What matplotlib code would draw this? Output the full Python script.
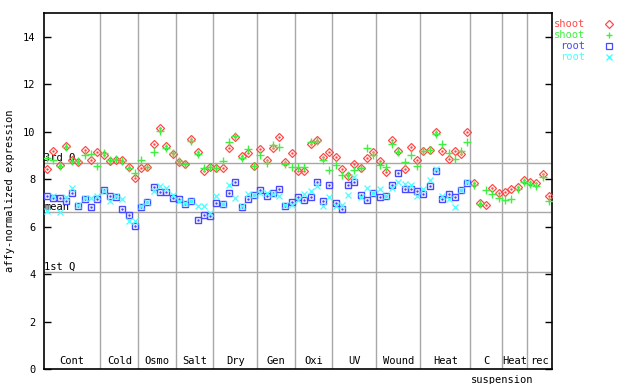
import numpy as np
import matplotlib
matplotlib.use('Agg')
import matplotlib.pyplot as plt

# groups of samples along the x axis
groups = ['Cont', 'Cold', 'Osmo', 'Salt', 'Dry', 'Gen', 'Oxi', 'UV', 'Wound',
          'Heat', 'C', 'Heat', 'rec']
group_sizes = [9, 6, 6, 6, 7, 6, 6, 7, 7, 8, 5, 4, 4]

# quartile / mean reference lines
q3_value = 8.68
mean_value = 6.61
q1_value = 4.08

# shoot (red diamonds)
shoot_1 = [8.43, 9.2, 8.6, 9.4, 8.8, 8.72, 9.24, 8.82, 9.15,
           9.0, 8.78, 8.82, 8.82, 8.5, 8.05,
           8.48, 8.5, 9.49, 10.15, 9.41, 9.06,
           8.72, 8.65, 9.69, 9.13, 8.33, 8.51,
           8.47, 8.47, 9.31, 9.77, 8.96, 9.1, 8.54,
           9.27, 8.82, 9.31, 9.76, 8.72, 9.1,
           8.36, 8.33, 9.5, 9.63, 8.93, 9.14,
           8.93, 8.43, 8.12, 8.65, 8.47, 8.89, 9.14,
           8.75, 8.28, 9.66, 9.17, 8.43, 9.35, 8.79,
           9.17, 9.22, 10.0, 9.17, 8.85, 9.2, 9.06, 10.0,
           7.85, 7.0, 6.92, 7.63, 7.43,
           7.45, 7.58, 7.67, 7.95,
           7.89, 7.85, 8.23, 7.3]
# shoot (green plus)
shoot_2 = [8.89, 8.82, 8.54, 9.35, 8.75, 8.75, 9.03, 9.06, 8.57,
           9.1, 8.82, 8.85, 8.78, 8.45, 8.26,
           8.82, 8.5, 9.14, 10.04, 9.31, 9.1,
           8.78, 8.64, 9.59, 9.07, 8.47, 8.5,
           8.45, 8.78, 9.56, 9.8, 8.89, 9.27, 8.57,
           9.03, 8.68, 9.42, 9.35, 8.64, 8.5,
           8.5, 8.5, 9.55, 9.6, 8.79, 8.4,
           8.6, 8.19, 8.16, 8.4, 8.45, 9.31, 9.03,
           8.6, 8.51, 9.49, 9.14, 8.71, 9.03, 8.54,
           9.2, 9.24, 9.9, 9.49, 9.1, 8.85, 9.2, 9.56,
           7.76, 6.96, 7.55, 7.38, 7.2,
           7.1, 7.16, 7.58, 7.9,
           7.79, 7.7, 8.09, 7.07]
# root (blue squares)
root_1 = [7.31, 7.2, 7.2, 7.09, 7.41, 6.88, 7.17, 6.82, 7.16,
          7.55, 7.31, 7.24, 6.74, 6.5, 6.03,
          6.82, 7.03, 7.67, 7.45, 7.45, 7.2,
          7.16, 6.96, 7.06, 6.29, 6.5, 6.46,
          6.99, 6.96, 7.41, 7.9, 6.81, 7.16, 7.34,
          7.55, 7.31, 7.41, 7.59, 6.88, 7.02,
          7.23, 7.13, 7.24, 7.88, 7.06, 7.75,
          6.99, 6.74, 7.75, 7.88, 7.34, 7.13, 7.41,
          7.24, 7.3, 7.75, 8.26, 7.58, 7.58, 7.51,
          7.38, 7.72, 8.33, 7.17, 7.38, 7.24, 7.55, 7.83]
# root (cyan x)
root_2 = [6.64, 7.27, 6.6, 7.25, 7.62, 6.9, 7.2, 7.2, 7.3,
          7.5, 7.09, 7.31, 7.17, 6.24, 6.24,
          6.85, 7.03, 7.51, 7.69, 7.62, 7.34,
          7.07, 6.98, 7.06, 6.88, 6.88, 6.57,
          7.3, 6.96, 7.76, 7.2, 6.85, 7.38, 7.34,
          7.41, 7.41, 7.38, 7.31, 6.92, 6.92,
          7.1, 7.38, 7.51, 7.69, 6.88, 7.24,
          6.88, 6.92, 7.34, 8.09, 7.24, 7.62, 7.41,
          7.58, 7.3, 7.62, 7.88, 7.78, 7.76, 7.27,
          7.58, 7.97, 8.43, 7.3, 7.17, 6.82, 7.55, 7.88]

RED = '#ff4848'
GREEN = '#40f040'
BLUE = '#4848ff'
CYAN = '#48ffff'
GRID = '#a8a8a8'
FONT = 'DejaVu Sans Mono'

plt.rcParams['font.family'] = FONT
plt.rcParams['font.size'] = 7.5

fig = plt.figure(figsize=(6.4, 3.84), dpi=100)
ax = fig.add_axes([44 / 640, 15 / 384, 508 / 640, 356 / 384])

n_total = sum(group_sizes)
ax.set_xlim(0, n_total)
ax.set_ylim(0, 15)

# vertical group separators and labels
bounds = np.cumsum([0] + group_sizes)
for b in bounds[1:-1]:
    ax.axvline(b, color=GRID, lw=1, zorder=1)
for name, lo, hi in zip(groups, bounds[:-1], bounds[1:]):
    ax.text((lo + hi) / 2, 0.12, name, ha='center', va='bottom')
ax.text(73.0, -0.25, 'suspension', ha='center', va='top', clip_on=False)

# horizontal reference lines
for val, lab in [(q3_value, '3rd Q'), (mean_value, 'mean'), (q1_value, '1st Q')]:
    ax.axhline(val, color=GRID, lw=1, zorder=1)
    ax.text(0.05, val + 0.02, lab, ha='left', va='bottom')

x_shoot = np.arange(len(shoot_1)) + 0.5
x_root = np.arange(len(root_1)) + 0.5

ax.plot(x_shoot, shoot_1, ls='none', marker='D', ms=3.8, mfc='none', mec=RED, mew=0.9, zorder=3)
ax.plot(x_shoot, shoot_1, ls='none', marker='.', ms=1.5, color=RED, zorder=3)
ax.plot(x_shoot, shoot_2, ls='none', marker='+', ms=6, mew=1.0, color=GREEN, zorder=4)
ax.plot(x_root, root_1, ls='none', marker='s', ms=4.2, mfc='none', mec=BLUE, mew=1.0, zorder=3)
ax.plot(x_root, root_1, ls='none', marker='.', ms=1.5, color=BLUE, zorder=3)
ax.plot(x_root, root_2, ls='none', marker='x', ms=4.5, mew=0.9, color=CYAN, zorder=4)

ax.set_xticks([])
ax.set_yticks(np.arange(0, 15, 2))
ax.tick_params(axis='y', direction='in', length=5, width=1, pad=6,
               right=True, labelright=False)
for s in ax.spines.values():
    s.set_linewidth(1.2)
ax.set_ylabel('affy-normalized expression', labelpad=6)

# legend at the top right, text then marker
legend_rows = [('shoot', RED, 'D'), ('shoot', GREEN, '+'), ('root', BLUE, 's'), ('root', CYAN, 'x')]
for k, (lab, col, mk) in enumerate(legend_rows):
    yy = 1 - (24 + 11 * k) / 384
    fig.text(585 / 640, yy, lab, ha='right', va='center', color=col)
    if mk in ('D', 's'):
        ax.plot([609 / 640], [yy], transform=fig.transFigure, clip_on=False, ls='none',
                marker=mk, ms=4, mfc='none', mec=col, mew=0.9)
    else:
        ax.plot([609 / 640], [yy], transform=fig.transFigure, clip_on=False, ls='none',
                marker=mk, ms=5, mew=1.0, color=col)

fig.savefig('out.png', dpi=100)
